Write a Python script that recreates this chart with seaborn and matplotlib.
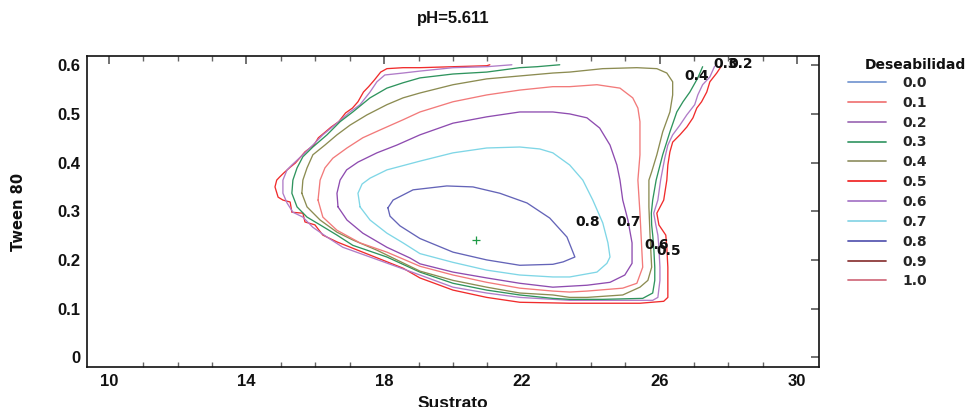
import numpy as np
import pandas as pd
import matplotlib
matplotlib.use("Agg")
import matplotlib.pyplot as plt
import seaborn as sns
from matplotlib.lines import Line2D

# ---------------- data ----------------
title_text = "pH=5.611"
x_label = "Sustrato"
y_label = "Tween 80"
legend_title = "Deseabilidad"
legend_levels = ["0.0", "0.1", "0.2", "0.3", "0.4", "0.5", "0.6", "0.7", "0.8", "0.9", "1.0"]
x_ticks = [10, 14, 18, 22, 26, 30]
y_ticks = [0, 0.1, 0.2, 0.3, 0.4, 0.5, 0.6]
y_tick_labels = ["0", "0.1", "0.2", "0.3", "0.4", "0.5", "0.6"]

# contour 0.8
c08_x = [18.11, 18.26, 18.84, 19.82, 20.58, 21.36, 22.15, 22.81, 23.31, 23.54, 23.20, 22.90,
         21.94, 20.98, 20.00, 19.04, 18.46, 18.17, 18.11]
c08_y = [0.307, 0.323, 0.344, 0.352, 0.350, 0.337, 0.317, 0.286, 0.247, 0.206, 0.196, 0.191,
         0.189, 0.200, 0.216, 0.244, 0.270, 0.290, 0.307]
# contour 0.7
c07_x = [17.30, 17.24, 17.36, 17.59, 18.08, 19.04, 20.00, 20.98, 21.94, 22.52, 22.90, 23.39,
         23.77, 24.06, 24.35, 24.50, 24.56, 24.47, 24.18, 23.39, 22.90, 21.94, 20.98, 20.00,
         19.04, 18.55, 18.08, 17.59, 17.30]
c07_y = [0.309, 0.337, 0.356, 0.368, 0.385, 0.403, 0.420, 0.430, 0.432, 0.428, 0.420, 0.395,
         0.364, 0.323, 0.276, 0.235, 0.206, 0.193, 0.175, 0.165, 0.165, 0.169, 0.179, 0.195,
         0.213, 0.235, 0.255, 0.282, 0.309]
# contour 0.6
c06_x = [16.66, 16.63, 16.72, 16.91, 17.24, 17.79, 18.37, 19.04, 20.00, 20.98, 21.94, 22.90,
         23.39, 23.89, 24.26, 24.56, 24.76, 24.85, 24.93, 25.08, 25.20, 25.20, 24.99, 24.56,
         23.89, 23.39, 22.90, 21.94, 20.98, 20.00, 19.04, 18.75, 18.08, 17.38, 16.92, 16.66]
c06_y = [0.309, 0.337, 0.364, 0.385, 0.401, 0.420, 0.436, 0.457, 0.481, 0.494, 0.504, 0.504,
         0.500, 0.492, 0.471, 0.436, 0.395, 0.364, 0.323, 0.282, 0.235, 0.193, 0.169, 0.154,
         0.148, 0.146, 0.144, 0.152, 0.163, 0.175, 0.192, 0.204, 0.226, 0.255, 0.282, 0.309]
# contour 0.5
c05_x = [16.08, 16.14, 16.28, 16.51, 16.92, 17.38, 17.88, 18.55, 19.04, 20.00, 20.98, 21.94,
         22.90, 23.39, 24.18, 24.85, 25.22, 25.37, 25.43, 25.43, 25.37, 25.43, 25.48, 25.51,
         25.34, 24.93, 23.89, 23.39, 22.90, 21.94, 20.98, 20.00, 19.04, 18.08, 17.30, 16.63,
         16.22, 16.08]
c05_y = [0.323, 0.364, 0.389, 0.409, 0.430, 0.451, 0.467, 0.488, 0.504, 0.525, 0.539, 0.549,
         0.556, 0.556, 0.560, 0.553, 0.533, 0.512, 0.484, 0.416, 0.364, 0.296, 0.226, 0.185,
         0.152, 0.142, 0.136, 0.134, 0.136, 0.142, 0.154, 0.169, 0.187, 0.216, 0.235, 0.261,
         0.288, 0.323]
# contour 0.4
c04_x = [15.61, 15.64, 15.76, 15.93, 16.28, 16.63, 17.01, 17.50, 18.08, 18.55, 19.04, 20.00,
         20.98, 21.94, 22.90, 23.39, 24.35, 25.34, 25.92, 26.21, 26.38, 26.38, 26.30, 26.09,
         25.92, 25.77, 25.69, 25.69, 25.72, 25.77, 25.66, 25.43, 24.93, 23.89, 23.39, 22.90,
         21.94, 20.98, 20.00, 19.04, 17.79, 17.09, 16.63, 16.14, 15.76, 15.61]
c04_y = [0.337, 0.364, 0.389, 0.416, 0.436, 0.457, 0.477, 0.498, 0.519, 0.533, 0.543, 0.560,
         0.572, 0.578, 0.584, 0.586, 0.593, 0.595, 0.593, 0.584, 0.566, 0.539, 0.504, 0.463,
         0.416, 0.381, 0.364, 0.309, 0.255, 0.185, 0.158, 0.144, 0.128, 0.123, 0.123, 0.128,
         0.132, 0.144, 0.158, 0.177, 0.220, 0.241, 0.257, 0.282, 0.309, 0.337]
# contour 0.3 (open, both ends at the top)
c03_x = [23.10, 22.44, 21.94, 20.98, 20.00, 19.04, 18.55, 18.08, 17.59, 17.09, 16.72, 16.34,
         15.93, 15.64, 15.47, 15.35, 15.32, 15.47, 15.76, 16.14, 16.63, 17.09, 18.08, 19.04,
         20.00, 20.98, 21.94, 22.90, 23.39, 24.35, 25.51, 25.80, 25.86, 25.86, 25.83, 25.80,
         25.77, 25.76, 25.80, 25.90, 26.09, 26.30, 26.50, 26.68, 26.88, 27.11, 27.25]
c03_y = [0.601, 0.597, 0.595, 0.586, 0.582, 0.574, 0.564, 0.553, 0.533, 0.504, 0.484, 0.457,
         0.432, 0.412, 0.389, 0.364, 0.337, 0.309, 0.288, 0.272, 0.251, 0.230, 0.206, 0.175,
         0.152, 0.138, 0.128, 0.121, 0.119, 0.119, 0.121, 0.132, 0.158, 0.185, 0.226, 0.251,
         0.272, 0.296, 0.323, 0.364, 0.416, 0.463, 0.504, 0.525, 0.545, 0.574, 0.597]
# contour 0.2 (open)
c02_x = [21.71, 20.98, 20.00, 19.04, 18.55, 18.02, 17.79, 17.59, 17.30, 17.01, 16.63, 16.22,
         15.93, 15.64, 15.32, 15.18, 15.06, 15.06, 15.18, 15.35, 15.64, 15.93, 16.34, 16.80,
         17.59, 19.04, 20.00, 20.98, 21.94, 23.39, 25.80, 25.95, 26.01, 26.01, 25.98, 25.95,
         25.89, 25.83, 25.95, 26.03, 26.15, 26.24, 26.38, 26.59, 26.79, 27.02, 27.11, 27.25,
         27.46, 27.60]
c02_y = [0.601, 0.597, 0.595, 0.588, 0.584, 0.580, 0.566, 0.545, 0.519, 0.504, 0.481, 0.457,
         0.436, 0.416, 0.395, 0.385, 0.364, 0.337, 0.317, 0.298, 0.288, 0.267, 0.247, 0.226,
         0.206, 0.169, 0.144, 0.132, 0.123, 0.117, 0.117, 0.123, 0.158, 0.185, 0.226, 0.251,
         0.272, 0.296, 0.323, 0.364, 0.409, 0.436, 0.457, 0.477, 0.498, 0.519, 0.539, 0.560,
         0.576, 0.598]
# contour 0.1 (open, outermost)
c01_x = [21.07, 20.98, 20.00, 19.04, 18.55, 18.08, 17.90, 17.72, 17.55, 17.40, 17.24, 17.08,
         16.88, 16.68, 16.46, 16.26, 16.09, 15.96, 15.70, 15.58, 15.42, 15.28, 15.09, 14.96,
         14.88, 14.83, 14.92, 15.06, 15.27, 15.32, 15.64, 15.70, 15.99, 16.22, 16.63, 17.09,
         17.59, 18.55, 19.04, 20.00, 20.98, 21.94, 23.39, 25.43, 26.12, 26.24, 26.24, 26.21,
         26.18, 25.98, 25.92, 26.12, 26.21, 26.24, 26.30, 26.38, 26.59, 26.79, 26.97, 27.08,
         27.22, 27.37, 27.46, 27.66, 27.80]
c01_y = [0.601, 0.599, 0.597, 0.595, 0.595, 0.593, 0.586, 0.570, 0.556, 0.545, 0.525, 0.512,
         0.502, 0.484, 0.473, 0.461, 0.451, 0.436, 0.422, 0.412, 0.399, 0.391, 0.379, 0.370,
         0.364, 0.350, 0.329, 0.323, 0.319, 0.298, 0.296, 0.278, 0.272, 0.251, 0.237, 0.224,
         0.210, 0.183, 0.163, 0.138, 0.123, 0.113, 0.111, 0.111, 0.115, 0.123, 0.185, 0.226,
         0.251, 0.272, 0.296, 0.323, 0.364, 0.395, 0.422, 0.442, 0.457, 0.473, 0.492, 0.512,
         0.525, 0.545, 0.566, 0.584, 0.599]

# optimum marker
opt_x = [20.68]
opt_y = [0.240]

# contour labels as they appear on the chart
clabel_text = ["0.8", "0.7", "0.6", "0.5", "0.4", "0.3", "0.2"]
clabel_x = [23.90, 25.11, 25.92, 26.27, 27.09, 27.91, 28.35]
clabel_y = [0.278, 0.278, 0.231, 0.218, 0.578, 0.603, 0.603]

# ---------------- styles ----------------
legend_colors = ["#7a9ad2", "#f07a7a", "#a070b8", "#3f9c6c", "#95956a", "#f02c2c",
                 "#a87ac8", "#8ad6e6", "#5a5ab2", "#8e3c3c", "#d27080"]
contour_sets = [
    ("0.1", c01_x, c01_y, "#f02c2c"),
    ("0.2", c02_x, c02_y, "#b07cc8"),
    ("0.3", c03_x, c03_y, "#2f945e"),
    ("0.4", c04_x, c04_y, "#8c8c52"),
    ("0.5", c05_x, c05_y, "#f27a7a"),
    ("0.6", c06_x, c06_y, "#8e4cb0"),
    ("0.7", c07_x, c07_y, "#7fd6e6"),
    ("0.8", c08_x, c08_y, "#6464b8"),
]

frames = []
for lvl, xs, ys, _ in contour_sets:
    frames.append(pd.DataFrame({"Sustrato": xs, "Tween": ys, "nivel": lvl}))
df = pd.concat(frames, ignore_index=True)

sns.set_theme(style="white")
plt.rcParams["font.family"] = ["Liberation Sans", "DejaVu Sans"]

fig = plt.figure(figsize=(9.72, 4.07), dpi=100)
ax = fig.add_axes([87 / 972, 1 - 367 / 407, (819 - 87) / 972, (367 - 56) / 407])

for lvl, _, _, col in contour_sets:
    sub = df[df["nivel"] == lvl]
    sns.lineplot(data=sub, x="Sustrato", y="Tween", sort=False, estimator=None,
                 color=col, lw=0.95, ax=ax, legend=False)

sns.scatterplot(x=opt_x, y=opt_y, marker="+", s=28, color="#1e9a46",
                linewidth=0.9, ax=ax, legend=False)

lab_font = dict(family=["DejaVu Sans"], weight="bold", size=10)
for t, xx, yy in zip(clabel_text, clabel_x, clabel_y):
    ax.text(xx, yy, t, ha="center", va="center", color="#111111", fontdict=lab_font)

ax.set_xlim(9.37, 30.63)
ax.set_ylim(-0.02, 0.619)
ax.set_xticks(x_ticks)
ax.set_xticks(np.arange(10, 31, 1), minor=True)
ax.set_yticks(y_ticks)
ax.set_xticklabels([str(v) for v in x_ticks], fontweight="bold", fontsize=12)
ax.set_yticklabels(y_tick_labels, fontweight="bold", fontsize=12)
ax.tick_params(which="major", direction="in", top=True, right=True, length=6,
               width=1.3, color="#666666", pad=5, labelcolor="#111111")
ax.tick_params(which="minor", direction="in", top=True, bottom=True, length=3.5,
               width=1.0, color="#666666")
ax.tick_params(axis="y", which="minor", left=False, right=False)
for sp in ax.spines.values():
    sp.set_visible(True)
    sp.set_color("#111111")
    sp.set_linewidth(1.2)

ax.set_xlabel(x_label, fontweight="bold", fontsize=12.5, color="#111111")
ax.xaxis.set_label_coords(0.5, -0.094)
ax.set_ylabel(y_label, fontweight="bold", fontsize=10.5, color="#111111",
              family=["DejaVu Sans"])
ax.yaxis.set_label_coords(-0.083, 0.5)
ax.set_title(title_text, fontweight="bold", fontsize=12, color="#111111", pad=24)

handles = [Line2D([0], [0], color=c, lw=1.3) for c in legend_colors]
leg = ax.legend(handles, legend_levels, loc="upper left",
                bbox_to_anchor=(848 / 972, 1 - 76 / 407), bbox_transform=fig.transFigure,
                frameon=False, borderpad=0, borderaxespad=0, handlelength=2.75,
                handletextpad=1.2, labelspacing=0.42,
                prop=dict(family=["DejaVu Sans"], weight="bold", size=10))
fig.text(865 / 972, 1 - 65 / 407, legend_title, ha="left", va="center",
         fontdict=dict(family=["DejaVu Sans"], weight="bold", size=10), color="#111111")

fig.savefig("out.png", dpi=100)
